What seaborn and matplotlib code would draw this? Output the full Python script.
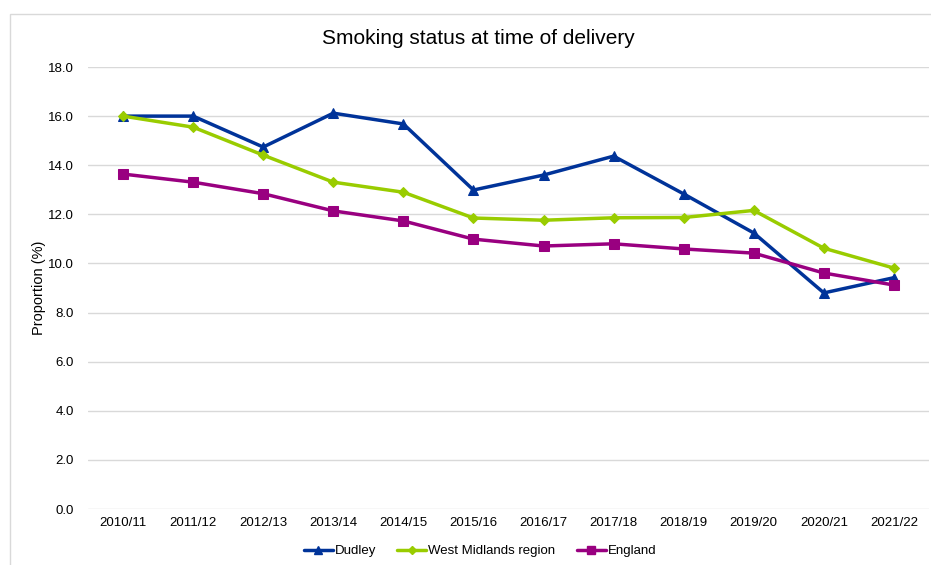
import matplotlib
matplotlib.use("Agg")
import matplotlib.pyplot as plt
import seaborn as sns
import pandas as pd
from matplotlib.patches import Rectangle
from matplotlib.lines import Line2D

years = ["2010/11", "2011/12", "2012/13", "2013/14", "2014/15", "2015/16",
         "2016/17", "2017/18", "2018/19", "2019/20", "2020/21", "2021/22"]
dudley = [16.0, 16.0, 14.74, 16.12, 15.68, 12.99, 13.6, 14.37, 12.83, 11.24, 8.8, 9.42]
west_midlands = [16.0, 15.55, 14.41, 13.31, 12.9, 11.85, 11.76, 11.86, 11.87, 12.16, 10.62, 9.81]
england = [13.64, 13.31, 12.84, 12.14, 11.73, 10.99, 10.71, 10.8, 10.59, 10.42, 9.61, 9.12]

series_names = ["Dudley", "West Midlands region", "England"]
colors = {"Dudley": "#003399", "West Midlands region": "#99CC00", "England": "#990080"}
markers = {"Dudley": "^", "West Midlands region": "D", "England": "s"}
msizes = {"Dudley": 7, "West Midlands region": 5.5, "England": 7}

frames = []
for name, vals in zip(series_names, [dudley, west_midlands, england]):
    frames.append(pd.DataFrame({"year": years, "value": vals, "series": name}))
df = pd.concat(frames, ignore_index=True)

sns.set_theme(style="white")
plt.rcParams['font.family'] = ['Liberation Sans', 'DejaVu Sans']
plt.rcParams['text.color'] = 'black'

fig = plt.figure(figsize=(9.31, 5.65), dpi=100)
ax = fig.add_axes([88/931, 1 - 509/565, (929-88)/931, (509-67)/565])

# light border around chart area
fig.patches.append(Rectangle((10/931, -0.1), 1.2, 1 - 14/565 + 0.1,
                             transform=fig.transFigure, fill=False,
                             edgecolor="#D9D9D9", linewidth=1.0, zorder=0))

for name in series_names:
    sub = df[df.series == name]
    sns.lineplot(data=sub, x="year", y="value", ax=ax, color=colors[name],
                 linewidth=2.5, marker=markers[name], markersize=msizes[name],
                 markeredgecolor=colors[name], sort=False, legend=False)

ax.set_xlim(-0.5, len(years) - 0.5)
ax.set_ylim(0, 18)
ax.set_yticks([i * 2 for i in range(10)])
ax.set_yticklabels([f"{i*2:.1f}" for i in range(10)])
ax.yaxis.grid(True, color="#D9D9D9", linewidth=1)
ax.xaxis.grid(False)
for s in ax.spines.values():
    s.set_visible(False)
ax.tick_params(axis="both", length=0, labelsize=9.5, labelcolor="black")
ax.tick_params(axis="y", pad=10)
ax.tick_params(axis="x", pad=6)
ax.set_xlabel("")
ax.set_ylabel("Proportion (%)", fontsize=10.5, color="black")
ax.yaxis.set_label_coords((46 - 88) / 841, 0.5)
ax.set_axisbelow(True)

fig.text(478/931, 1 - 38/565, "Smoking status at time of delivery",
         ha="center", va="center", fontsize=15, color="black")

handles = [Line2D([0], [0], color=colors[n], marker=markers[n], linewidth=2.5,
                  markersize=msizes[n] * 0.75) for n in series_names]
fig.legend(handles, series_names, loc="center", bbox_to_anchor=(480/931, 1 - 551/565),
           ncol=3, frameon=False, fontsize=9.5, handlelength=2.2, handletextpad=0.15,
           columnspacing=1.6, labelcolor="black")

fig.savefig("out.png", dpi=100)
